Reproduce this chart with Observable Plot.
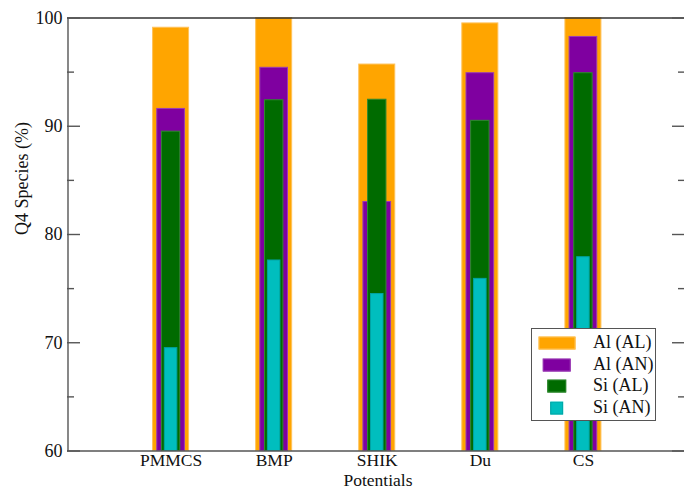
<!DOCTYPE html>
<html>
<head>
<meta charset="utf-8">
<script src="https://cdn.jsdelivr.net/npm/d3@7"></script>
<script src="https://cdn.jsdelivr.net/npm/@observablehq/plot@0.6"></script>
<style>
  html, body { margin: 0; padding: 0; background: #fff; }
  #chart { position: relative; width: 684px; height: 489px; font-family: "Liberation Serif", "Times New Roman", serif; }
  #legend { position: absolute; left: 531px; top: 328px; width: 123px; height: 91px;
            border: 1px solid #555; background: #fff; box-sizing: content-box; }
  #legend .row { position: absolute; left: 0; height: 20px; width: 123px; }
  #legend .sw { position: absolute; top: 50%; transform: translate(-50%, -50%); height: 13px; }
  #legend .lab { position: absolute; left: 61px; top: 50%; transform: translateY(-52%);
                 font-size: 18px; color: #111; white-space: nowrap; }
</style>
</head>
<body>
<div id="chart"></div>
<script>
// Q4 species percentages per interatomic potential
const categories = ["PMMCS", "BMP", "SHIK", "Du", "CS"];
const seriesNames = ["Al (AL)", "Al (AN)", "Si (AL)", "Si (AN)"];
const alAL = [99.1, 100, 95.7, 99.5, 100];
const alAN = [91.6, 95.4, 83.0, 94.9, 98.25];
const siAL = [89.5, 92.4, 92.45, 90.5, 94.9];
const siAN = [69.5, 77.6, 74.5, 75.9, 77.9];
const yMajor = [60, 70, 80, 90, 100];
const yMinor = [65, 75, 85, 95];

// drawing style per series: fill, edge, bar width (x units)
const styles = [
  {fill: "#ffa500", stroke: "#ffc25a", w: 0.359},
  {fill: "#7f00a0", stroke: "#9a3cb4", w: 0.278},
  {fill: "#006b00", stroke: "#2f8a2f", w: 0.188},
  {fill: "#00bebe", stroke: "#00a3a3", w: 0.131}
];
const seriesValues = [alAL, alAN, siAL, siAN];

const bars = seriesValues.map((vals, s) => {
  const st = styles[s];
  const rows = vals.map((v, i) => ({pos: i + 1, value: v, series: seriesNames[s]}));
  return Plot.rectY(rows, {
    x1: d => d.pos - st.w / 2,
    x2: d => d.pos + st.w / 2,
    y1: () => 60,
    y2: "value",
    fill: st.fill,
    stroke: st.stroke,
    strokeWidth: 1,
    insetLeft: 0.5, insetRight: 0.5
  });
});

const axisColor = "#555";
const font = 18;
const tickStyle = {label: null, tickFormat: () => "", stroke: axisColor, strokeWidth: 1.4};

const chart = Plot.plot({
  width: 684,
  height: 489,
  marginLeft: 67,
  marginRight: 0,
  marginTop: 18,
  marginBottom: 38,
  style: {fontFamily: "'Liberation Serif', 'Times New Roman', serif", fontSize: font + "px", color: "#111", background: "#fff"},
  x: {domain: [0, 6], range: [67.5, 686]},
  y: {domain: [60, 100], range: [450.5, 17.5]},
  marks: [
    ...bars,
    // frame lines
    Plot.ruleY([60], {stroke: axisColor, strokeWidth: 1.4}),
    Plot.ruleY([100], {stroke: "#333", strokeWidth: 1.6}),
    Plot.ruleX([0], {stroke: axisColor, strokeWidth: 1.4}),
    Plot.ruleX([6], {stroke: axisColor, strokeWidth: 1.4}),
    // inward ticks on both sides
    Plot.axisY({ticks: yMajor, tickSize: -13, ...tickStyle}),
    Plot.axisY({ticks: yMinor, tickSize: -7, ...tickStyle}),
    Plot.axisY({ticks: yMajor, anchor: "right", tickSize: -13, ...tickStyle}),
    Plot.axisY({ticks: yMinor, anchor: "right", tickSize: -7, ...tickStyle}),
    // tick labels
    Plot.axisY({ticks: yMajor, tickSize: 0, tickPadding: 5, label: null, fontSize: font, fill: "#111"}),
    Plot.axisX({ticks: [1, 2, 3, 4, 5], tickSize: 0, tickPadding: 2, tickFormat: i => categories[i - 1], label: null, fontSize: 17.5, fill: "#111"}),
    // axis titles
    Plot.text(["Q4 Species (%)"], {frameAnchor: "left", rotate: -90, dx: -45, fontSize: font, fill: "#111"}),
    Plot.text(["Potentials"], {frameAnchor: "bottom", lineAnchor: "middle", dy: 28.5, dx: 2, fontSize: 17.5, fill: "#111"})
  ]
});

const root = document.getElementById("chart");
root.appendChild(chart);

// legend box
const legend = document.createElement("div");
legend.id = "legend";
const rowCenters = [14, 35.5, 57, 78.5];
seriesNames.forEach((name, s) => {
  const row = document.createElement("div");
  row.className = "row";
  row.style.top = (rowCenters[s] - 10) + "px";
  const sw = document.createElement("div");
  sw.className = "sw";
  sw.style.left = "24.5px";
  sw.style.width = (styles[s].w * 103.1) + "px";
  sw.style.background = styles[s].fill;
  sw.style.boxShadow = "inset 0 0 0 1px " + styles[s].stroke;
  const lab = document.createElement("div");
  lab.className = "lab";
  lab.textContent = name;
  row.appendChild(sw);
  row.appendChild(lab);
  legend.appendChild(row);
});
root.appendChild(legend);
</script>
</body>
</html>
